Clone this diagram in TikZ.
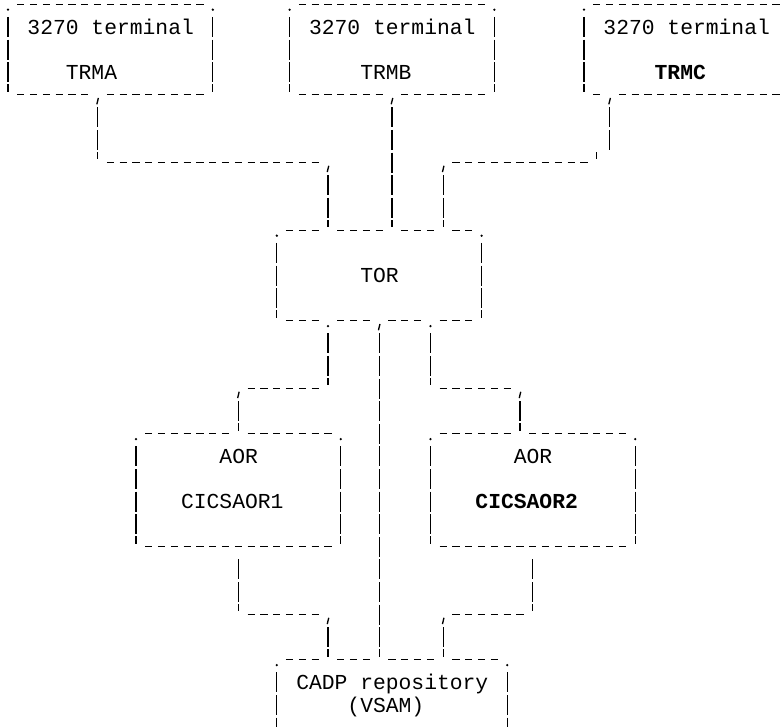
\documentclass[tikz,border=0pt]{standalone}
\usepackage{fontspec}
\newfontfamily\asciifont{Liberation Mono}
\tikzset{
  hd/.style={line width=1pt, dash pattern=on 5.475pt off 4.125pt},
  vd/.style={line width=1pt, dash pattern=on 15pt off 1.95pt},
  tk/.style={line width=1pt},
  lbl/.style={anchor=base west, inner sep=0pt, font=\asciifont\fontsize{16pt}{18pt}\selectfont},
  lblb/.style={lbl, font=\asciifont\fontsize{16pt}{18pt}\selectfont\bfseries}
}
% grid helpers: column c, row r
\newcommand\hrn[3]{\draw[hd] ({#1-0.285},#3) -- ({#2+0.285},#3);}
\newcommand\vrn[3]{\draw[vd] (#1,{#2-0.4425}) -- (#1,{#3+0.4425});}
\newcommand\dotc[2]{\fill (#1,{#2+0.235}) circle[radius=0.95pt];}
\newcommand\tickc[2]{\draw[tk] (#1,{#2-0.46}) -- (#1,{#2-0.14});}
\newcommand\commc[2]{\draw[tk] ({#1+0.06},{#2+0.14}) -- ({#1-0.06},{#2+0.42});}
\begin{document}
\begin{tikzpicture}[x=9.6pt,y=-16.95pt]
\useasboundingbox (-0.625,-0.19469) rectangle (60.390625,31.9735);
\clip (-0.625,-0.19469) rectangle (60.390625,31.9735);

% ---- terminal TRMA
\dotc{0}{0} \hrn{1}{15}{0} \dotc{16}{0}
\vrn{0}{1}{3} \vrn{16}{1}{3}
\tickc{0}{4} \hrn{1}{6}{4} \commc{7}{4} \hrn{8}{15}{4} \tickc{16}{4}
\node[lbl] (ta) at (1.5,1.31) {3270 terminal};
\node[lbl] (trma) at (4.5,3.31) {TRMA};

% ---- terminal TRMB
\dotc{22}{0} \hrn{23}{37}{0} \dotc{38}{0}
\vrn{22}{1}{3} \vrn{38}{1}{3}
\tickc{22}{4} \hrn{23}{29}{4} \commc{30}{4} \hrn{31}{37}{4} \tickc{38}{4}
\node[lbl] (tb) at (23.5,1.31) {3270 terminal};
\node[lbl] (trmb) at (27.5,3.31) {TRMB};

% ---- terminal TRMC
\dotc{45}{0} \hrn{46}{60}{0}
\vrn{45}{1}{3}
\tickc{45}{4} \hrn{46}{46}{4} \commc{47}{4} \hrn{48}{60}{4}
\node[lbl] (tc) at (46.5,1.31) {3270 terminal};
\node[lblb] (trmc) at (50.5,3.31) {TRMC};

% ---- connectors terminals -> TOR
\vrn{7}{5}{6} \tickc{7}{7} \hrn{8}{24}{7} \commc{25}{7} \vrn{25}{8}{9} \tickc{25}{10}
\vrn{30}{5}{9} \tickc{30}{10}
\vrn{47}{5}{6} \tickc{46}{7} \hrn{35}{45}{7} \commc{34}{7} \vrn{34}{8}{9} \tickc{34}{10}

% ---- TOR
\dotc{21}{10} \hrn{22}{24}{10} \hrn{26}{29}{10} \hrn{31}{33}{10} \hrn{35}{36}{10} \dotc{37}{10}
\vrn{21}{11}{13} \vrn{37}{11}{13}
\tickc{21}{14} \hrn{22}{24}{14} \dotc{25}{14} \hrn{26}{28}{14} \commc{29}{14}
\hrn{30}{32}{14} \dotc{33}{14} \hrn{34}{36}{14} \tickc{37}{14}
\node[lbl] (tor) at (27.5,12.31) {TOR};

% ---- connectors TOR -> AORs and CADP
\vrn{25}{15}{16} \tickc{25}{17} \hrn{19}{24}{17} \commc{18}{17} \vrn{18}{18}{18} \tickc{18}{19}
\vrn{29}{15}{28} \tickc{29}{29}
\vrn{33}{15}{16} \tickc{33}{17} \hrn{34}{39}{17} \commc{40}{17} \vrn{40}{18}{18} \tickc{40}{19}

% ---- AOR CICSAOR1
\dotc{10}{19} \hrn{11}{17}{19} \hrn{19}{25}{19} \dotc{26}{19}
\vrn{10}{20}{23} \vrn{26}{20}{23}
\tickc{10}{24} \hrn{11}{25}{24} \tickc{26}{24}
\node[lbl] (aora) at (16.5,20.31) {AOR};
\node[lbl] (aor1) at (13.5,22.31) {CICSAOR1};

% ---- AOR CICSAOR2
\dotc{33}{19} \hrn{34}{39}{19} \hrn{41}{48}{19} \dotc{49}{19}
\vrn{33}{20}{23} \vrn{49}{20}{23}
\tickc{33}{24} \hrn{34}{48}{24} \tickc{49}{24}
\node[lbl] (aorb) at (39.5,20.31) {AOR};
\node[lblb] (aor2) at (36.5,22.31) {CICSAOR2};

% ---- connectors AORs -> CADP
\vrn{18}{25}{26} \tickc{18}{27} \hrn{19}{24}{27} \commc{25}{27} \vrn{25}{28}{28} \tickc{25}{29}
\vrn{41}{25}{26} \tickc{41}{27} \hrn{35}{40}{27} \commc{34}{27} \vrn{34}{28}{28} \tickc{34}{29}

% ---- CADP repository
\dotc{21}{29} \hrn{22}{24}{29} \hrn{26}{28}{29} \hrn{30}{33}{29} \hrn{35}{38}{29} \dotc{39}{29}
\vrn{21}{30}{32} \vrn{39}{30}{32}
\node[lbl] (cadp) at (22.5,30.31) {CADP repository};
\node[lbl] (vsam) at (26.5,31.31) {(VSAM)};
\end{tikzpicture}
\end{document}
